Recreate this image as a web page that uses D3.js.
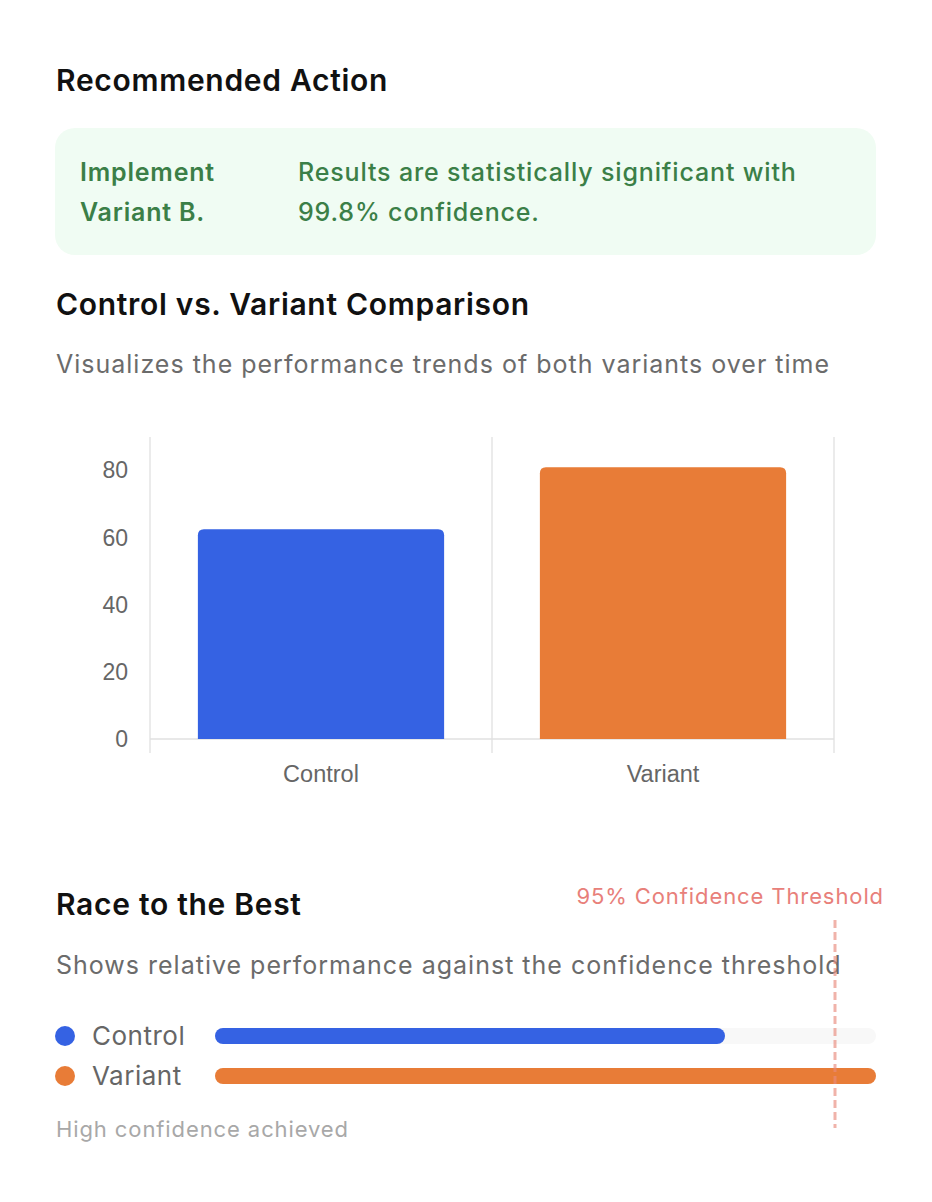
<!DOCTYPE html>
<html>
<head>
<meta charset="utf-8">
<script src="https://cdn.jsdelivr.net/npm/d3@7"></script>
<style>
  body { margin: 0; background: #fff; }
  svg text { font-family: Inter, "Noto Sans", sans-serif; }
  .tick text, .xlab { font-family: "Liberation Sans", Arial, sans-serif; }
</style>
</head>
<body>
<div id="chart"></div>
<script>
// data
const variants = ["Control", "Variant"];
const scores = [62.5, 81];
const colors = ["#3562e3", "#e87c37"];
const yTicks = [0, 20, 40, 60, 80];
const threshold = 95; // percent of race width

const W = 932, H = 1202;
const svg = d3.select("#chart").append("svg")
  .attr("width", W).attr("height", H);

function heading(txt, yy) {
  svg.append("text").attr("x", 56).attr("y", yy)
    .attr("font-size", 30).attr("font-weight", 600).attr("fill", "#111")
    .attr("letter-spacing", 0.7)
    .text(txt);
}
function subtitle(txt, yy) {
  svg.append("text").attr("x", 56).attr("y", yy)
    .attr("font-size", 25).attr("fill", "#6b6b6b")
    .attr("letter-spacing", 1.0)
    .text(txt);
}

// --- Recommended Action
heading("Recommended Action", 91);

svg.append("rect").attr("x", 55).attr("y", 128).attr("width", 821).attr("height", 127)
  .attr("rx", 20).attr("fill", "#f0fcf3");

const green = "#3b7f47";
[["Implement", "Results are statistically significant with"],
 ["Variant B.", "99.8% confidence."]].forEach((row, i) => {
  svg.append("text").attr("x", 80).attr("y", 181 + i * 40)
    .attr("font-size", 25).attr("font-weight", 600).attr("fill", green)
    .attr("letter-spacing", 0.8).text(row[0]);
  svg.append("text").attr("x", 298).attr("y", 181 + i * 40)
    .attr("font-size", 25).attr("font-weight", 500).attr("fill", green)
    .attr("letter-spacing", 0.85).text(row[1]);
});

// --- Comparison bar chart
heading("Control vs. Variant Comparison", 315);
subtitle("Visualizes the performance trends of both variants over time", 373);

const pLeft = 150, pRight = 834, pTop = 437, pBottom = 739;
const x = d3.scaleBand().domain(variants).range([pLeft, pRight]);
const y = d3.scaleLinear().domain([0, 90]).range([pBottom, pTop]);
const barW = x.bandwidth() * 0.72;

// vertical grid lines at category edges
const edges = variants.map(v => x(v)).concat([pRight]);
svg.append("g").selectAll("line").data(edges).join("line")
  .attr("x1", d => d).attr("x2", d => d)
  .attr("y1", pTop).attr("y2", pBottom + 14)
  .attr("stroke", "#e5e5e5").attr("stroke-width", 1.5);

svg.append("line").attr("x1", pLeft).attr("x2", pRight)
  .attr("y1", pBottom).attr("y2", pBottom)
  .attr("stroke", "#e0e0e0").attr("stroke-width", 1.5);

const yAxis = svg.append("g").attr("transform", `translate(${pLeft},0)`)
  .call(d3.axisLeft(y).tickValues(yTicks).tickSize(0).tickPadding(22));
yAxis.select(".domain").remove();
yAxis.selectAll("text").attr("font-size", 23).attr("fill", "#666");

// bars with rounded top corners
svg.append("g").selectAll("path").data(variants).join("path")
  .attr("fill", (d, i) => colors[i])
  .attr("d", (d, i) => {
    const x0 = x(d) + (x.bandwidth() - barW) / 2, x1 = x0 + barW;
    const y0 = y(scores[i]), r = 6;
    return `M${x0},${pBottom}V${y0 + r}Q${x0},${y0} ${x0 + r},${y0}H${x1 - r}Q${x1},${y0} ${x1},${y0 + r}V${pBottom}Z`;
  });

svg.append("g").selectAll("text").data(variants).join("text")
  .attr("class", "xlab")
  .attr("x", d => x(d) + x.bandwidth() / 2).attr("y", 782)
  .attr("text-anchor", "middle").attr("font-size", 23.5).attr("fill", "#666")
  .text(d => d);

// --- Race to the Best
heading("Race to the Best", 915);
subtitle("Shows relative performance against the confidence threshold", 974);

const race = d3.scaleLinear().domain([0, d3.max(scores)]).range([215, 876]);
const container = d3.scaleLinear().domain([0, 100]).range([56, 876]);
const rowY = d3.scaleBand().domain(variants).range([1016, 1096]);

const rows = svg.append("g").selectAll("g").data(variants).join("g")
  .attr("transform", d => `translate(0,${rowY(d) + rowY.bandwidth() / 2})`);
rows.append("circle").attr("cx", 65).attr("r", 10).attr("fill", (d, i) => colors[i]);
rows.append("text").attr("x", 92).attr("y", 9)
  .attr("font-size", 26).attr("fill", "#666").attr("letter-spacing", 0.5).text(d => d);
rows.append("rect").attr("x", race(0)).attr("y", -8)
  .attr("width", race.range()[1] - race(0)).attr("height", 16).attr("rx", 8)
  .attr("fill", "#f8f8f8");
rows.append("rect").attr("x", race(0)).attr("y", -8)
  .attr("width", (d, i) => race(scores[i]) - race(0)).attr("height", 16).attr("rx", 8)
  .attr("fill", (d, i) => colors[i]);

const tx = container(threshold);
svg.append("line").attr("x1", tx).attr("x2", tx).attr("y1", 920).attr("y2", 1128)
  .attr("stroke", "#e88a7c").attr("stroke-opacity", 0.65)
  .attr("stroke-width", 3).attr("stroke-dasharray", "8,4");
svg.append("text").attr("x", 884).attr("y", 904).attr("text-anchor", "end")
  .attr("font-size", 22).attr("fill", "#e8807a").attr("letter-spacing", 0.9)
  .text("95% Confidence Threshold");

svg.append("text").attr("x", 56).attr("y", 1137)
  .attr("font-size", 22).attr("fill", "#a8a8a8").attr("letter-spacing", 0.9)
  .text("High confidence achieved");
</script>
</body>
</html>
